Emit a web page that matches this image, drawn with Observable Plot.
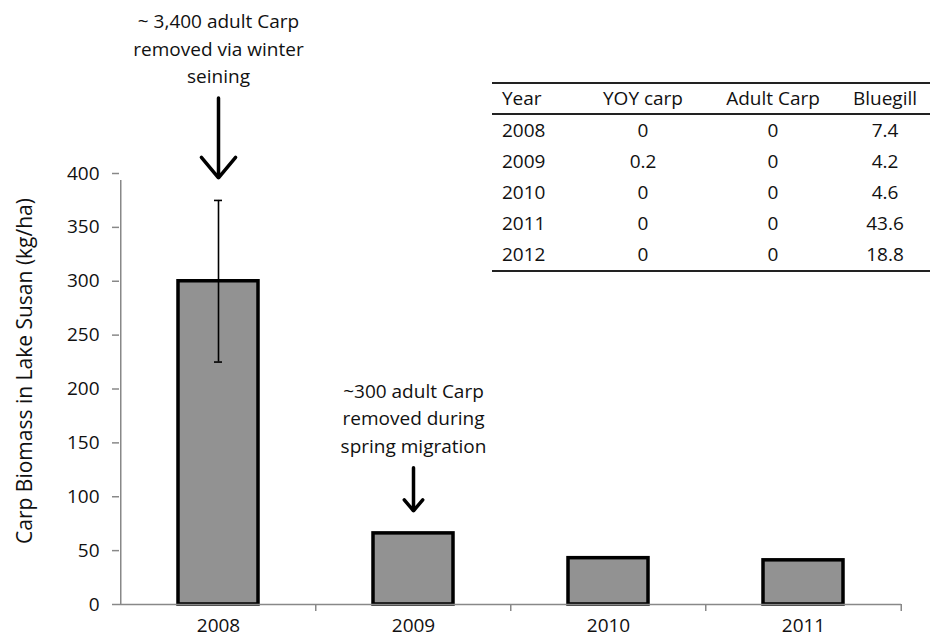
<!DOCTYPE html>
<html>
<head>
<meta charset="utf-8">
<script src="https://cdn.jsdelivr.net/npm/d3@7"></script>
<script src="https://cdn.jsdelivr.net/npm/@observablehq/plot@0.6"></script>
<style>
  html, body { margin: 0; padding: 0; background: #fff; }
  #wrap { position: relative; width: 931px; height: 644px; font-family: "Open Sans", sans-serif; }
  #tbl { position: absolute; left: 492px; top: 82px; width: 438px; border-collapse: collapse;
         font-family: "Open Sans", sans-serif; font-size: 19px; color: #111; table-layout: fixed; }
  #tbl th, #tbl td { padding: 0; font-weight: normal; line-height: 31px; height: 31px; }
  #tbl thead th { border-top: 2px solid #222; border-bottom: 2px solid #222; height: 29px; line-height: 29px; }
  #tbl tbody tr:last-child td { border-bottom: 2px solid #222; }
  #tbl .c1 { text-align: left; padding-left: 10px; }
  #tbl .cc { text-align: center; }
</style>
</head>
<body>
<div id="wrap"></div>
<script>
// ---- Chart data ----
const years = ["2008", "2009", "2010", "2011"];
const biomass = [300, 66, 43, 41];
const errors = [75, 0, 0, 0];
const yTicks = [0, 50, 100, 150, 200, 250, 300, 350, 400];
const yLabel = "Carp Biomass in Lake Susan (kg/ha)";

// ---- Annotations ----
const annoYears = ["2008", "2009"];
const annoTexts = ["~ 3,400 adult Carp\nremoved via winter\nseining", "~300 adult Carp\nremoved during\nspring migration"];
const arrowFrom = [470, 127];
const arrowTo = [396, 87];

// ---- Table data ----
const tableHeader = ["Year", "YOY carp", "Adult Carp", "Bluegill"];
const tableYears = ["2008", "2009", "2010", "2011", "2012"];
const yoyCarp = ["0", "0.2", "0", "0", "0"];
const adultCarp = ["0", "0", "0", "0", "0"];
const bluegill = ["7.4", "4.2", "4.6", "43.6", "18.8"];

const bars = years.map((y, i) => ({year: y, value: biomass[i], err: errors[i]}));
const errData = bars.filter(d => d.err > 0).map(d => ({...d, lo: d.value - d.err, hi: d.value + d.err}));
const annos = annoYears.map((y, i) => ({year: y, text: annoTexts[i], from: arrowFrom[i], to: arrowTo[i]}));

const W = 931, H = 644, mL = 119, mR = 30, mT = 173, mB = 40;
const step = (W - mL - mR) / years.length;
const axisGray = "#888888";

const plot = Plot.plot({
  width: W, height: H,
  marginLeft: mL, marginRight: mR, marginTop: mT, marginBottom: mB,
  style: {fontFamily: "Open Sans, sans-serif", fontSize: "19px", color: "#111", background: "#fff", overflow: "visible"},
  x: {type: "band", domain: years, paddingInner: 0.59, paddingOuter: 0.295},
  y: {domain: [0, 400]},
  marks: [
    Plot.barY(bars, {x: "year", y: "value", fill: "#929292", stroke: "#000", strokeWidth: 3.5}),
    Plot.ruleX(errData, {x: "year", y1: "lo", y2: "hi", stroke: "#000", strokeWidth: 1.6}),
    Plot.tickY(errData, {x: "year", y: "lo", stroke: "#000", strokeWidth: 1.6, insetLeft: 36, insetRight: 36}),
    Plot.tickY(errData, {x: "year", y: "hi", stroke: "#000", strokeWidth: 1.6, insetLeft: 36, insetRight: 36}),
    // axes lines and boundary ticks
    Plot.ruleY([0], {stroke: axisGray, strokeWidth: 1.5}),
    Plot.ruleX([years[0]], {x: d => d, y1: 0, y2: 400, dx: -step / 2, insetBottom: -7, stroke: axisGray, strokeWidth: 1.5}),
    Plot.ruleX(years.slice(1), {x: d => d, y1: 0, y2: 0, dx: -step / 2, insetBottom: -7, stroke: axisGray, strokeWidth: 1.5}),
    Plot.ruleX([years[years.length - 1]], {x: d => d, y1: 0, y2: 0, dx: step / 2, insetBottom: -7, stroke: axisGray, strokeWidth: 1.5}),
    Plot.axisY({ticks: yTicks, tickSize: 7, tickPadding: 13, fontSize: 19, stroke: axisGray, fill: "#111", strokeWidth: 1.5, label: null, tickFormat: d => String(d)}),
    Plot.axisX({tickSize: 0, tickPadding: 14, fontSize: 19, fill: "#111", label: null}),
    Plot.text([yLabel], {frameAnchor: "left", textAnchor: "middle", rotate: -90, dx: -94, dy: -18, fontSize: 21, fill: "#111"}),
    // annotations
    Plot.arrow(annos, {x1: "year", x2: "year", y1: "from", y2: "to", stroke: "#000", strokeWidth: 3.5, headLength: 12, headAngle: 80}),
    Plot.text(annos, {x: "year", y: "from", text: "text", lineAnchor: "bottom", lineHeight: 1.45, dy: -15, fontSize: 19, fill: "#111"})
  ]
});

const wrap = document.getElementById("wrap");
wrap.appendChild(plot);

// table overlay
const tbl = document.createElement("table");
tbl.id = "tbl";
const colW = [88, 126, 134, 90];
const cg = document.createElement("colgroup");
colW.forEach(w => { const c = document.createElement("col"); c.style.width = w + "px"; cg.appendChild(c); });
tbl.appendChild(cg);
const thead = document.createElement("thead");
const hr = document.createElement("tr");
tableHeader.forEach((h, i) => { const th = document.createElement("th"); th.textContent = h; th.className = i === 0 ? "c1" : "cc"; hr.appendChild(th); });
thead.appendChild(hr);
tbl.appendChild(thead);
const tbody = document.createElement("tbody");
tableYears.forEach((y, i) => {
  const tr = document.createElement("tr");
  [y, yoyCarp[i], adultCarp[i], bluegill[i]].forEach((v, j) => {
    const td = document.createElement("td"); td.textContent = v; td.className = j === 0 ? "c1" : "cc"; tr.appendChild(td);
  });
  tbody.appendChild(tr);
});
tbl.appendChild(tbody);
wrap.appendChild(tbl);
</script>
</body>
</html>
